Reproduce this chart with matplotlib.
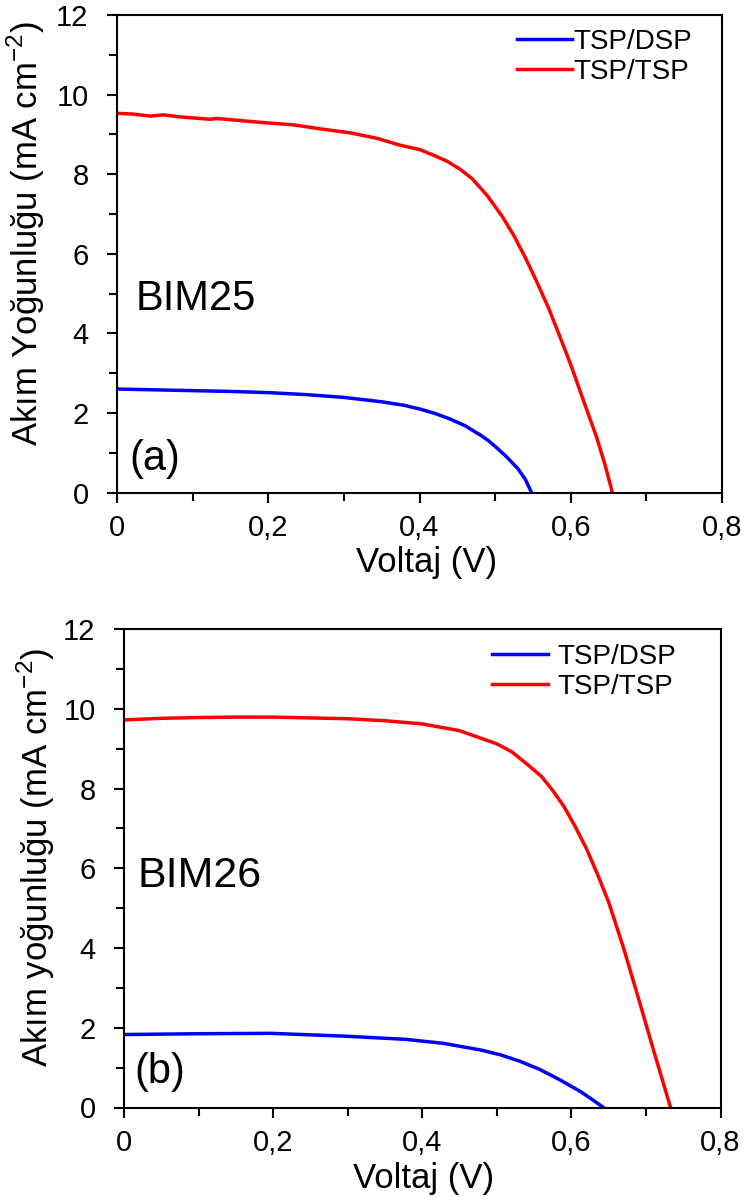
import matplotlib
matplotlib.use("Agg")
import matplotlib.pyplot as plt
from matplotlib.ticker import MultipleLocator, FuncFormatter

plt.rcParams['font.family'] = ['Liberation Sans', 'DejaVu Sans']
plt.rcParams['mathtext.fontset'] = 'custom'
plt.rcParams['mathtext.rm'] = 'Liberation Sans'

# ---------------- Data ----------------
series_labels = ["TSP/DSP", "TSP/TSP"]

# Panel (a) BIM25
a_dsp_v = [0.0, 0.05, 0.10, 0.15, 0.20, 0.25, 0.30, 0.35, 0.38, 0.40, 0.42, 0.44, 0.46,
           0.48, 0.49, 0.50, 0.515, 0.53, 0.54, 0.548]
a_dsp_j = [2.60, 2.58, 2.56, 2.54, 2.51, 2.46, 2.39, 2.28, 2.19, 2.10, 1.99, 1.85, 1.68,
           1.45, 1.32, 1.16, 0.90, 0.60, 0.33, 0.0]

a_tsp_v = [0.0, 0.021, 0.044, 0.061, 0.083, 0.123, 0.132, 0.167, 0.198, 0.233, 0.272, 0.308,
           0.344, 0.374, 0.40, 0.418, 0.436, 0.454, 0.47, 0.49, 0.51, 0.525, 0.54, 0.555,
           0.571, 0.585, 0.601, 0.617, 0.634, 0.645, 0.655]
a_tsp_j = [9.53, 9.51, 9.46, 9.49, 9.44, 9.38, 9.40, 9.34, 9.29, 9.24, 9.13, 9.04,
           8.90, 8.73, 8.62, 8.48, 8.33, 8.12, 7.88, 7.45, 6.92, 6.45, 5.90, 5.30,
           4.62, 3.95, 3.16, 2.30, 1.40, 0.72, 0.0]

# Panel (b) BIM26
b_dsp_v = [0.0, 0.10, 0.197, 0.295, 0.377, 0.428, 0.479, 0.505, 0.531, 0.557, 0.582, 0.60,
           0.613, 0.628, 0.643]
b_dsp_j = [1.83, 1.85, 1.86, 1.79, 1.71, 1.61, 1.44, 1.32, 1.16, 0.96, 0.72, 0.53,
           0.39, 0.20, 0.0]

b_tsp_v = [0.0, 0.05, 0.10, 0.15, 0.20, 0.25, 0.30, 0.35, 0.40, 0.45, 0.50, 0.52, 0.54,
           0.56, 0.575, 0.59, 0.605, 0.62, 0.635, 0.65, 0.67, 0.689, 0.71, 0.733]
b_tsp_j = [9.72, 9.76, 9.78, 9.79, 9.79, 9.77, 9.75, 9.70, 9.62, 9.45, 9.12, 8.92, 8.62,
           8.30, 7.95, 7.55, 7.05, 6.50, 5.85, 5.15, 4.00, 2.80, 1.45, 0.0]

x_ticks = [0.0, 0.2, 0.4, 0.6, 0.8]
y_ticks = [0, 2, 4, 6, 8, 10, 12]

colors = ["#0000ff", "#ff0000"]

# ---------------- Figure ----------------
fig = plt.figure(figsize=(7.47, 12.02), dpi=100)
ax_a = fig.add_axes([117/747, 1-492.5/1202, (722-117)/747, (492.5-15)/1202])
ax_b = fig.add_axes([124/747, 1-1107.5/1202, (720.5-124)/747, (1107.5-629)/1202])


def fmt_x(v, pos):
    if abs(v) < 1e-9:
        return "0"
    return ("%.1f" % v).replace(".", ",")


def style(ax, ylabel, ylab_coords, xlab_coords):
    ax.set_xlim(0, 0.8)
    ax.set_ylim(0, 12)
    ax.set_xticks(x_ticks)
    ax.set_yticks(y_ticks)
    ax.xaxis.set_minor_locator(MultipleLocator(0.1))
    ax.yaxis.set_minor_locator(MultipleLocator(1))
    ax.xaxis.set_major_formatter(FuncFormatter(fmt_x))
    for s in ax.spines.values():
        s.set_linewidth(1.5)
    ax.tick_params(axis='both', which='major', direction='out', length=7.5, width=1.5,
                   labelsize=21, pad=8)
    ax.tick_params(axis='both', which='minor', direction='out', length=5.5, width=1.5)
    ax.tick_params(axis='y', which='major', pad=13)
    ax.tick_params(top=False, right=False, which='both')
    ax.set_xlabel("Voltaj (V)", fontsize=25)
    ax.set_ylabel(ylabel, fontsize=25)
    ax.yaxis.set_label_coords(*ylab_coords)
    ax.xaxis.set_label_coords(*xlab_coords)


for ax, dv, dj, tv, tj in [(ax_a, a_dsp_v, a_dsp_j, a_tsp_v, a_tsp_j),
                           (ax_b, b_dsp_v, b_dsp_j, b_tsp_v, b_tsp_j)]:
    ax.plot(dv, dj, color=colors[0], lw=2.5, label=series_labels[0])
    ax.plot(tv, tj, color=colors[1], lw=2.5, label=series_labels[1])

style(ax_a, "Akım Yoğunluğu (mA cm$^{-2}$)", (-0.115, 0.543), (0.511, -0.112))
style(ax_b, "Akım yoğunluğu (mA cm$^{-2}$)", (-0.112, 0.523), (0.503, -0.114))

ax_a.legend(loc='upper left', bbox_to_anchor=(0.661, 0.971), frameon=False, fontsize=20,
            handlelength=1.98, handletextpad=0.07, labelspacing=0.15, borderpad=0,
            borderaxespad=0)
ax_b.legend(loc='upper left', bbox_to_anchor=(0.617, 0.969), frameon=False, fontsize=20,
            handlelength=2.0, handletextpad=0.36, labelspacing=0.15, borderpad=0,
            borderaxespad=0)

ax_a.text(0.030, 0.382, "BIM25", transform=ax_a.transAxes, fontsize=30, va='baseline')
ax_a.text(0.020, 0.047, "(a)", transform=ax_a.transAxes, fontsize=30, va='baseline')
ax_b.text(0.022, 0.461, "BIM26", transform=ax_b.transAxes, fontsize=31, va='baseline')
ax_b.text(0.018, 0.051, "(b)", transform=ax_b.transAxes, fontsize=30, va='baseline')

fig.savefig("out.png", dpi=100)
